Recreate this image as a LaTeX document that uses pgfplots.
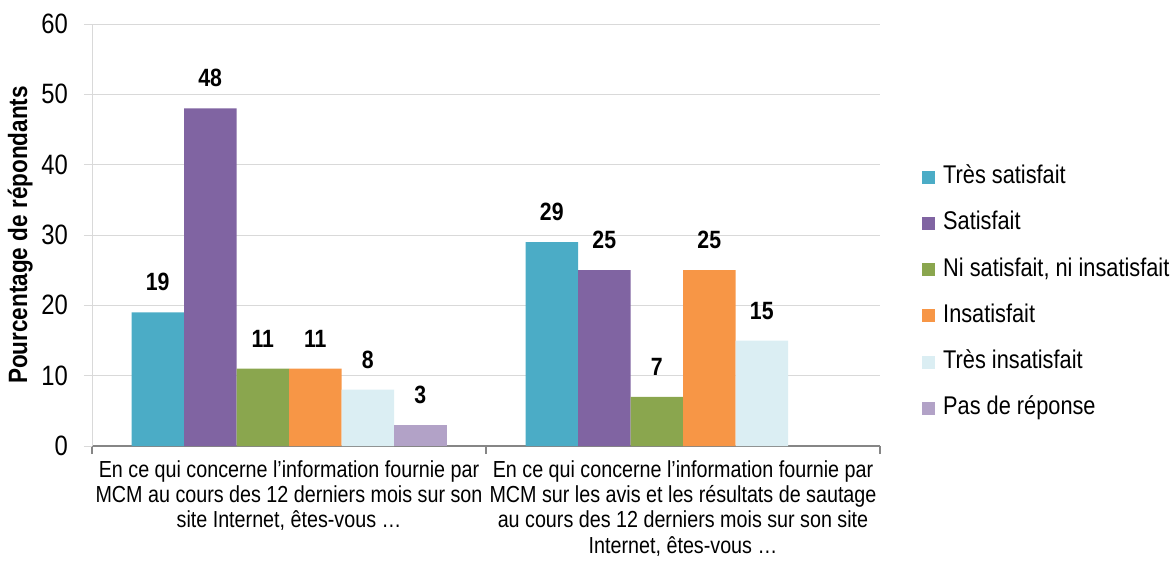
\documentclass[border=0pt]{standalone}
\usepackage{fontspec}
\setmainfont{Liberation Sans}[FakeStretch=0.85]
\usepackage{pgfplots}
\pgfplotsset{compat=1.18}
\definecolor{c1}{RGB}{75,172,198}
\definecolor{c2}{RGB}{128,100,162}
\definecolor{c3}{RGB}{138,166,78}
\definecolor{c4}{RGB}{247,150,70}
\definecolor{c5}{RGB}{219,238,243}
\definecolor{c6}{RGB}{178,162,199}
\definecolor{gridc}{RGB}{217,217,217}
\definecolor{axc}{RGB}{134,134,134}
\begin{document}
\begin{tikzpicture}
\path[use as bounding box] (0pt,0pt) rectangle (1173pt,-568pt);
\begin{axis}[
  at={(92pt,-446pt)}, anchor=south west,
  scale only axis, width=788pt, height=422pt,
  xmin=-0.5, xmax=1.5, ymin=0, ymax=60,
  ybar=0pt, bar width=52.5pt,
  axis x line*=bottom, axis y line*=left,
  x axis line style={draw=axc, line width=1.2pt},
  y axis line style={draw=gridc, line width=1pt},
  ytick={0,10,...,60},
  ymajorgrids, grid style={draw=gridc, line width=1pt},
  tick align=outside, major tick length=8pt,
  y tick style={draw=gridc, line width=1pt},
  x tick style={draw=axc, line width=1.2pt},
  xtick={-0.5,0.5,1.5}, xticklabels={},
  extra x ticks={0,1},
  extra x tick labels={{En ce qui concerne l’information fournie par\\MCM au cours des 12 derniers mois sur son\\site Internet, êtes-vous …},{En ce qui concerne l’information fournie par\\MCM sur les avis et les résultats de sautage\\au cours des 12 derniers mois sur son site\\Internet, êtes-vous …}},
  extra x tick style={major tick length=0pt, grid=none,
    tick label style={align=center, anchor=north, inner sep=0pt, yshift=-14pt,
      font=\fontsize{23.2}{25.4}\selectfont}},
  /pgf/number format/assume math mode=true,
  yticklabel style={anchor=east, inner sep=0pt, xshift=-16pt, font=\fontsize{28}{30}\selectfont},
  ylabel={Pourcentage de répondants},
  ylabel style={font=\bfseries\fontsize{26.5}{30}\selectfont, at={(axis description cs:-0.091,0.5)}, anchor=center},
  nodes near coords,
  every node near coord/.append style={font=\bfseries\fontsize{25}{28}\selectfont, anchor=south, inner sep=0pt, yshift=21pt, text=black},
  legend style={at={(1.0533,0.6647)}, anchor=north west, draw=none, fill=none,
    font=\fontsize{25.6}{28}\selectfont, inner sep=0pt, row sep=23.2pt,
    nodes={inner sep=0pt, text height=18pt, text depth=5pt},
    /tikz/every odd column/.append style={column sep=8pt}},
  legend cell align=left,
  legend image code/.code={\fill[#1] (0pt,-6.5pt) rectangle (13pt,6.5pt);},
]
\addplot[fill=c1, draw=none] coordinates {(0,19) (1,29)};
\addplot[fill=c2, draw=none] coordinates {(0,48) (1,25)};
\addplot[fill=c3, draw=none] coordinates {(0,11) (1,7)};
\addplot[fill=c4, draw=none] coordinates {(0,11) (1,25)};
\addplot[fill=c5, draw=none] coordinates {(0,8) (1,15)};
\addplot[fill=c6, draw=none] coordinates {(0,3)};
\legend{Très satisfait, Satisfait, {Ni satisfait, ni insatisfait}, Insatisfait, Très insatisfait, Pas de réponse}
\end{axis}
\end{tikzpicture}
\end{document}
